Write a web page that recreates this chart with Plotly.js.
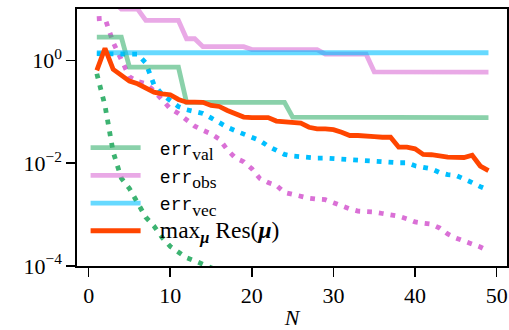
<!DOCTYPE html>
<html>
<head>
<meta charset="utf-8">
<script src="https://cdn.plot.ly/plotly-3.0.1.min.js"></script>
<style>html,body{margin:0;padding:0;background:#fff;}#chart{width:509px;height:330px;}</style>
</head>
<body>
<div id="chart"></div>
<script>
// ---- data ----
const N = [1,2,3,4,5,6,7,8,9,10,11,12,13,14,15,16,17,18,19,20,21,22,23,24,25,26,27,28,29,30,31,32,33,34,35,36,37,38,39,40,41,42,43,44,45,46,47,48,49];
const N_short = [1,2,3,4,5,6,7,8,9,10,11,12,13,14,15,16];

const errVal = [2.84,2.84,2.84,2.84,0.74,0.74,0.74,0.74,0.74,0.74,0.74,0.152,0.152,0.152,0.152,0.152,0.152,0.152,0.152,0.152,0.152,0.152,0.152,0.152,0.079,0.079,0.079,0.079,0.079,0.079,0.079,0.079,0.079,0.079,0.079,0.078,0.078,0.078,0.078,0.078,0.078,0.078,0.077,0.077,0.077,0.077,0.077,0.077,0.077];
const errObs = [14,14,14,10,10,10,6.0,6.0,6.0,6.0,6.0,2.64,2.64,1.85,1.85,1.85,1.85,1.85,1.85,1.62,1.62,1.62,1.62,1.62,1.62,1.62,1.62,1.62,1.32,1.32,1.32,1.32,1.32,1.32,0.6,0.6,0.6,0.6,0.6,0.6,0.6,0.6,0.6,0.6,0.6,0.595,0.595,0.59,0.59];
const errVec = [1.41,1.41,1.41,1.41,1.41,1.41,1.41,1.41,1.41,1.41,1.41,1.41,1.41,1.41,1.41,1.41,1.41,1.41,1.41,1.41,1.41,1.41,1.41,1.41,1.41,1.41,1.41,1.41,1.41,1.41,1.41,1.41,1.41,1.41,1.41,1.41,1.41,1.41,1.41,1.41,1.41,1.41,1.41,1.41,1.41,1.41,1.41,1.41,1.41];
const maxRes = [0.64,1.72,0.67,0.53,0.395,0.35,0.294,0.241,0.224,0.215,0.174,0.154,0.154,0.153,0.133,0.127,0.106,0.091,0.079,0.077,0.077,0.077,0.066,0.064,0.063,0.060,0.050,0.0466,0.0466,0.045,0.040,0.0346,0.0346,0.0344,0.033,0.032,0.032,0.0205,0.0205,0.019,0.0148,0.0146,0.0137,0.0131,0.0130,0.0129,0.0143,0.0088,0.0072];

const valDotted = [0.55,0.132,0.0166,0.0051,0.0032,0.00174,0.00089,0.0006,0.00036,0.00024,0.000182,0.000145,0.000126,0.00011,0.0000933,0.0000794];
const obsDotted = [6.46,6.6,2.24,1.05,0.48,0.39,0.355,0.257,0.17,0.115,0.093,0.069,0.0525,0.0437,0.0372,0.0295,0.0182,0.0126,0.0107,0.0078,0.005,0.0042,0.0037,0.0027,0.00245,0.00229,0.00209,0.002,0.00195,0.0017,0.00145,0.00129,0.00117,0.00117,0.00112,0.00105,0.001,0.00093,0.00083,0.00072,0.00068,0.00065,0.00055,0.00042,0.00035,0.00031,0.000275,0.000234,0.000195];
const vecDotted = [1.35,1.35,1.35,1.35,1.35,1.32,0.89,0.339,0.219,0.162,0.126,0.110,0.100,0.093,0.076,0.060,0.050,0.0427,0.0372,0.0316,0.0275,0.0214,0.0174,0.0148,0.0138,0.0132,0.0129,0.0126,0.0126,0.0123,0.0117,0.0115,0.0112,0.011,0.011,0.0106,0.0102,0.0102,0.0102,0.0089,0.0083,0.0078,0.0066,0.006,0.0058,0.0048,0.0042,0.0035,0.003];

const xTicks = [0,10,20,30,40,50];
const yTickVals = [1e-4,1e-2,1];
const yTickText = ['10<sup>\u22124</sup>','10<sup>\u22122</sup>','10<sup>0</sup>'];

const GAP = '\u00a0\u00a0\u00a0';
const MONO = 'font-family:Liberation Mono;font-size:18px';
const names = [
  GAP + '<span style="' + MONO + '">err</span><span style="font-size:25px"><sub>val</sub></span>',
  GAP + '<span style="' + MONO + '">err</span><span style="font-size:25px"><sub>obs</sub></span>',
  GAP + '<span style="' + MONO + '">err</span><span style="font-size:25px"><sub>vec</sub></span>',
  GAP + '<span style="font-size:23.5px">max<sub><b><i>\u03bc</i></b></sub> Res(<b><i>\u03bc</i></b>)</span>'
];

// ---- styles ----
const GREEN = '#3cb371', PINK = '#da70d6', BLUE = '#00bfff', ORANGE = '#ff4500';
const DOT = '4.8px,7px';
const LW = 4.8;

const traces = [
  {x:N_short, y:valDotted, mode:'lines', line:{color:GREEN, width:LW, dash:DOT}, showlegend:false},
  {x:N, y:obsDotted, mode:'lines', line:{color:PINK, width:LW, dash:DOT}, showlegend:false},
  {x:N, y:vecDotted, mode:'lines', line:{color:BLUE, width:LW, dash:DOT}, showlegend:false},
  {x:N, y:errVal, mode:'lines', name:names[0], line:{color:'rgba(60,179,113,0.6)', width:LW}},
  {x:N, y:errObs, mode:'lines', name:names[1], line:{color:'rgba(218,112,214,0.6)', width:LW}},
  {x:N, y:errVec, mode:'lines', name:names[2], line:{color:'rgba(0,191,255,0.6)', width:LW}},
  {x:N, y:maxRes, mode:'lines', name:names[3], line:{color:ORANGE, width:LW}}
];

const FONT = 'Liberation Serif, Times New Roman, serif';
const layout = {
  width:509, height:330,
  margin:{l:77, r:2, t:9, b:64},
  paper_bgcolor:'#fff', plot_bgcolor:'#fff',
  font:{family:FONT, size:22, color:'#000'},
  showlegend:true,
  legend:{x:0.02, y:0.063, xanchor:'left', yanchor:'bottom', bgcolor:'rgba(0,0,0,0)', borderwidth:0,
          font:{family:FONT, size:19, color:'#000'}, itemwidth:50, tracegroupgap:0},
  xaxis:{range:[-1.43,51.27], tickvals:xTicks, ticks:'outside', ticklen:9, tickwidth:1.6, tickcolor:'#000',
         showline:true, linecolor:'#000', linewidth:1.6, mirror:true, showgrid:false, zeroline:false,
         tickfont:{family:FONT, size:22},
         title:{text:'<i>N</i>', font:{family:FONT, size:22}, standoff:6}},
  yaxis:{type:'log', range:[-4,1], tickvals:yTickVals, ticktext:yTickText, ticks:'outside', ticklen:9, tickwidth:1.6,
         tickcolor:'#000', showline:true, linecolor:'#000', linewidth:1.6, mirror:true, showgrid:false, zeroline:false,
         tickfont:{family:FONT, size:22}}
};

Plotly.newPlot('chart', traces, layout, {staticPlot:true, displayModeBar:false});
</script>
</body>
</html>
